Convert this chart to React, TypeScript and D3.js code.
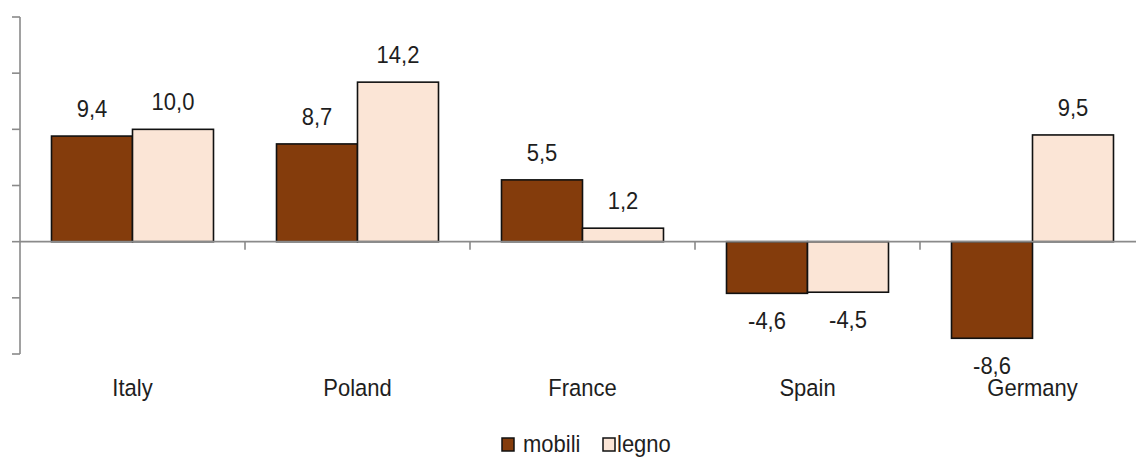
import React from "react";
import * as d3 from "d3";

const categories = ["Italy", "Poland", "France", "Spain", "Germany"];
const seriesNames = ["mobili", "legno"];
const mobili = [9.4, 8.7, 5.5, -4.6, -8.6];
const legno = [10.0, 14.2, 1.2, -4.5, 9.5];
const yTicks = [-10, -5, 0, 5, 10, 15, 20];

const colors: Record<string, string> = { mobili: "#843C0C", legno: "#FBE5D6" };
const W = 1136;
const H = 457;
const FONT = "'Liberation Sans', Arial, sans-serif";
const FS = 22;

export default function App() {
  const x = d3.scaleBand<string>().domain(categories).range([20, 1145]).paddingInner(0).paddingOuter(0);
  const xs = d3.scaleBand<string>().domain(seriesNames).range([0, x.bandwidth()]).paddingInner(0).paddingOuter(0.389);
  const y = d3.scaleLinear().domain([-10, 20]).range([354, 17]);
  const fmt = (v: number) => v.toFixed(1).replace(".", ",");
  const data: Record<string, number[]> = { mobili, legno };
  const y0 = y(0);

  const Txt = (p: { x: number; y: number; anchor?: string; children: React.ReactNode }) => (
    <text
      transform={`translate(${p.x},${p.y}) scale(1,1.08)`}
      textAnchor={p.anchor || "middle"}
      fontSize={FS}
      fill="#1e1e1e"
    >
      {p.children}
    </text>
  );

  return (
    <svg width={W} height={H} style={{ position: "absolute", left: 0, top: 0, background: "#fff" }} fontFamily={FONT}>
      {/* y axis */}
      <line x1={20} x2={20} y1={y(20)} y2={y(-10)} stroke="#8a8a8a" strokeWidth={1.6} />
      {yTicks.map((t) => (
        <line key={t} x1={12} x2={20} y1={y(t)} y2={y(t)} stroke="#8a8a8a" strokeWidth={1.6} />
      ))}
      {/* bars */}
      {categories.map((c, i) =>
        seriesNames.map((s) => {
          const v = data[s][i];
          const bx = (x(c) as number) + (xs(s) as number);
          const top = Math.min(y(v), y0);
          const h = Math.abs(y(v) - y0);
          return (
            <rect key={c + s} x={bx} y={top} width={xs.bandwidth()} height={h} fill={colors[s]} stroke="#111" strokeWidth={1.6} />
          );
        })
      )}
      {/* x axis */}
      <line x1={20} x2={W} y1={y0} y2={y0} stroke="#8a8a8a" strokeWidth={1.6} />
      {categories.slice(1).map((c) => (
        <line key={c} x1={x(c) as number} x2={x(c) as number} y1={y0} y2={y0 + 8} stroke="#8a8a8a" strokeWidth={1.6} />
      ))}
      {/* data labels */}
      {categories.map((c, i) =>
        seriesNames.map((s) => {
          const v = data[s][i];
          const cx = (x(c) as number) + (xs(s) as number) + xs.bandwidth() / 2;
          const ty = v >= 0 ? y(v) - 19 : y(v) + 36;
          return (
            <Txt key={"l" + c + s} x={cx} y={ty}>
              {fmt(v)}
            </Txt>
          );
        })
      )}
      {/* category labels */}
      {categories.map((c) => (
        <Txt key={"c" + c} x={(x(c) as number) + x.bandwidth() / 2} y={396}>
          {c}
        </Txt>
      ))}
      {/* legend */}
      <g>
        <rect x={502} y={438} width={12} height={13} fill={colors.mobili} stroke="#111" strokeWidth={1.5} />
        <Txt x={523} y={452} anchor="start">mobili</Txt>
        <rect x={603} y={438} width={12} height={13} fill={colors.legno} stroke="#111" strokeWidth={1.5} />
        <Txt x={617} y={452} anchor="start">legno</Txt>
      </g>
    </svg>
  );
}
